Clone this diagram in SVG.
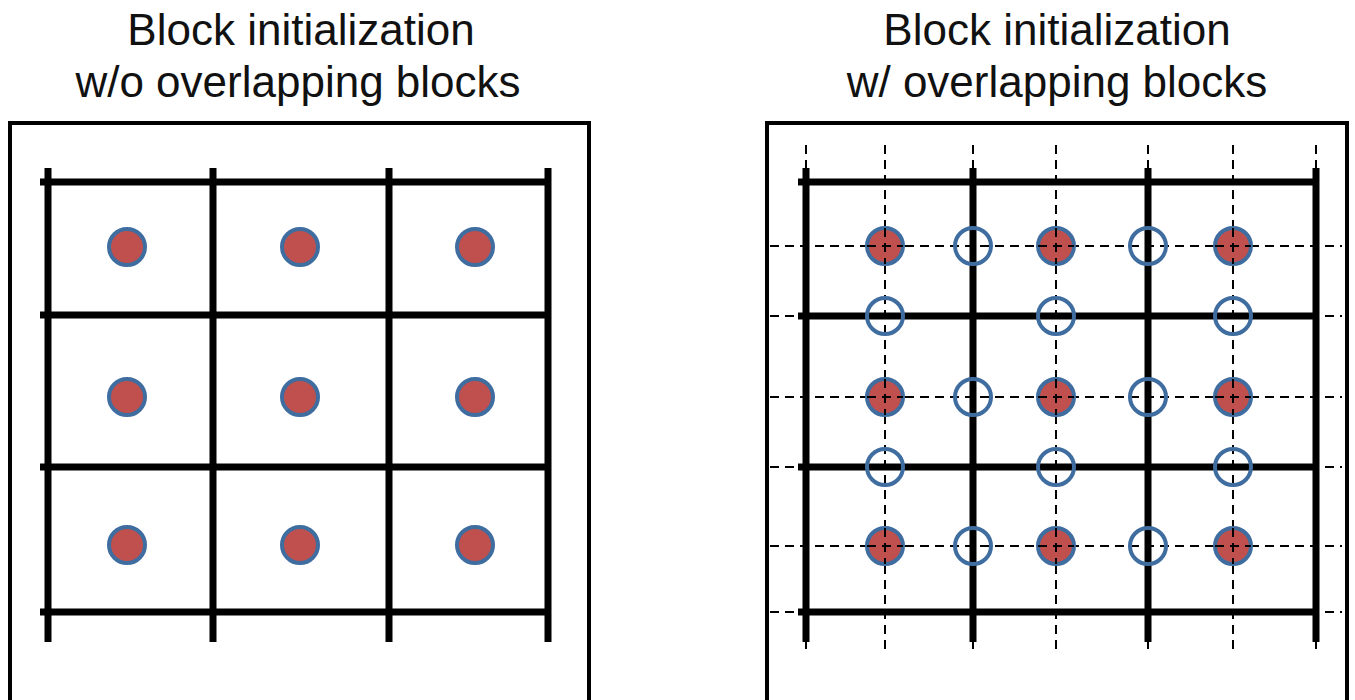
<svg xmlns="http://www.w3.org/2000/svg" width="1355" height="700" viewBox="0 0 1355 700">
<style>
.title{font-family:"Liberation Sans",Arial,sans-serif;font-size:44px;fill:#111;text-anchor:middle}
.frame{fill:none;stroke:#000;stroke-width:4}
.grid{stroke:#000;stroke-width:7;fill:none}
.dash{stroke:#000;stroke-width:2;stroke-dasharray:9 6;fill:none}
.fill{fill:#C0504D;stroke:#3F6DA0;stroke-width:4}
.open{fill:none;stroke:#3F6DA0;stroke-width:4}
</style>
<rect width="1355" height="700" fill="#fff"/>
<g id="left-panel">
  <text class="title" x="301" y="45">Block initialization</text>
  <text class="title" x="298" y="97">w/o overlapping blocks</text>
  <rect class="frame" x="10" y="123" width="579" height="590"/>
  <g id="left-grid">
    <path class="grid" d="M48 168V642M213 168V642M389 168V642M548 168V642M40 182H548M40 315H548M40 467H548M40 612H548"/>
  </g>
  <g id="left-points">
    <circle class="fill" cx="127" cy="247" r="18"/>
    <circle class="fill" cx="300" cy="247" r="18"/>
    <circle class="fill" cx="475" cy="247" r="18"/>
    <circle class="fill" cx="127" cy="397" r="18"/>
    <circle class="fill" cx="300" cy="397" r="18"/>
    <circle class="fill" cx="475" cy="397" r="18"/>
    <circle class="fill" cx="127" cy="545" r="18"/>
    <circle class="fill" cx="300" cy="545" r="18"/>
    <circle class="fill" cx="475" cy="545" r="18"/>
  </g>
</g>
<g id="right-panel">
  <text class="title" x="1057" y="45">Block initialization</text>
  <text class="title" x="1057" y="97">w/ overlapping blocks</text>
  <rect class="frame" x="767" y="123" width="580" height="590"/>
  <g id="right-grid">
    <path class="grid" d="M806 168V642M973 168V642M1148 168V642M1316 168V642M798 182H1316M798 316H1316M798 467H1316M798 612H1316"/>
  </g>
  <g id="right-dashed">
    <path class="dash" d="M806 145V650M885 145V650M973 145V650M1056 145V650M1148 145V650M1233 145V650M1316 145V650"/>
    <path class="dash" d="M770 246H1342M770 316H1342M770 397H1342M770 467H1342M770 546H1342M770 612H1342"/>
  </g>
  <g id="right-points">
    <circle class="fill" cx="885" cy="246" r="18"/>
    <circle class="fill" cx="1056" cy="246" r="18"/>
    <circle class="fill" cx="1233" cy="246" r="18"/>
    <circle class="fill" cx="885" cy="397" r="18"/>
    <circle class="fill" cx="1056" cy="397" r="18"/>
    <circle class="fill" cx="1233" cy="397" r="18"/>
    <circle class="fill" cx="885" cy="546" r="18"/>
    <circle class="fill" cx="1056" cy="546" r="18"/>
    <circle class="fill" cx="1233" cy="546" r="18"/>
    <circle class="open" cx="973" cy="246" r="18"/>
    <circle class="open" cx="1148" cy="246" r="18"/>
    <circle class="open" cx="973" cy="397" r="18"/>
    <circle class="open" cx="1148" cy="397" r="18"/>
    <circle class="open" cx="973" cy="546" r="18"/>
    <circle class="open" cx="1148" cy="546" r="18"/>
    <circle class="open" cx="885" cy="316" r="18"/>
    <circle class="open" cx="1056" cy="316" r="18"/>
    <circle class="open" cx="1233" cy="316" r="18"/>
    <circle class="open" cx="885" cy="467" r="18"/>
    <circle class="open" cx="1056" cy="467" r="18"/>
    <circle class="open" cx="1233" cy="467" r="18"/>
  </g>
  <g id="right-dashed-over">
    <path class="dash" d="M885 228V264M1056 228V264M1233 228V264M885 379V415M1056 379V415M1233 379V415M885 528V564M1056 528V564M1233 528V564"/>
    <path class="dash" d="M867 246H903M1038 246H1074M1215 246H1251M867 397H903M1038 397H1074M1215 397H1251M867 546H903M1038 546H1074M1215 546H1251"/>
  </g>
</g>
</svg>
